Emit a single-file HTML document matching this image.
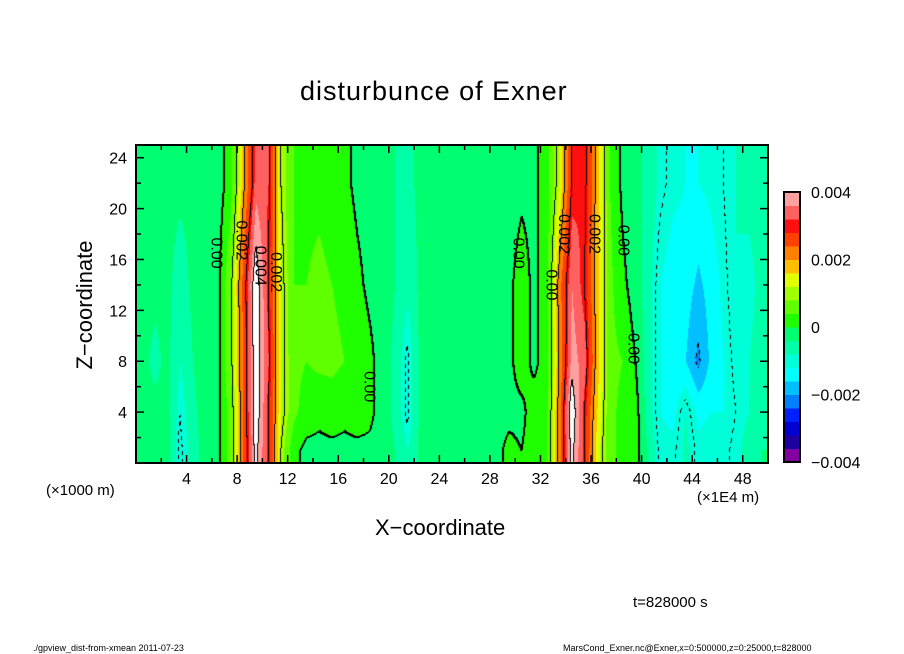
<!DOCTYPE html>
<html><head><meta charset="utf-8"><style>
body{margin:0;background:#fff;}
#root{position:relative;width:904px;height:654px;overflow:hidden;background:#fff;font-family:"Liberation Sans",sans-serif;color:#000;}
.t{position:absolute;white-space:nowrap;}
canvas{position:absolute;}
</style></head><body>
<div id="root">
<div class="t" style="left:300px;top:76px;font-size:27px;letter-spacing:1px;">disturbunce of Exner</div>
<canvas id="plot" width="632" height="318" style="left:136px;top:145px;"></canvas>
<svg id="axes" width="904" height="654" style="position:absolute;left:0;top:0;"></svg>
<div class="t" style="left:46px;top:482px;font-size:15px;">(×1000 m)</div>
<div class="t" style="left:697px;top:489px;font-size:15px;">(×1E4 m)</div>
<div class="t" style="left:375px;top:515px;font-size:22px;">X−coordinate</div>
<div class="t" style="left:20px;top:292px;font-size:22px;transform:rotate(-90deg);transform-origin:center;width:130px;text-align:center;">Z−coordinate</div>
<div class="t" style="left:633px;top:594px;font-size:15px;">t=828000 s</div>
<div class="t" style="left:33px;top:643px;font-size:9px;">./gpview_dist-from-xmean  2011-07-23</div>
<div class="t" style="left:563px;top:643px;font-size:9px;">MarsCond_Exner.nc@Exner,x=0:500000,z=0:25000,t=828000</div>
</div>
<script>
// z levels of rows (units of 1000 m), x columns centered at i+0.5 (x1E4 m)
const zRows = [1, 4, 8, 14, 22];
const row1 = [-2,-3,-2,-11,-6,-2,-1,6,24,42,30,10,1,-1,-1,-1,-1,-1,-1,-2,-4,-8,-3,-3,-2,-3,-2,-2,-1,1,0,2,3,22,42,30,14,5,3,2,-4,-11,-11,-7,-11,-10,-11,-9,-6,-4];
const row4 = [-2,-3,-3,-10,-5,-2,-1,6,24,44,30,12,5,2,1,2,1,2,1,-2,-5,-11,-3,-3,-3,-3,-3,-2,-2,-1,-1,2,3,22,44,30,16,5,3,2,-6,-12,-13,-8,-13,-12,-12,-10,-8,-5];
const row8 = [-3,-5,-3,-8,-4,-2,-1,8,24,44,32,12,5,4,5,5,4,3,1,-2,-5,-11,-3,-3,-3,-3,-2,-2,-2,-1,2,-1,2,20,38,34,18,5,4,0,-6,-12,-15,-16,-21,-15,-12,-9,-8,-5];
const row14 = [-2,-3,-3,-6,-3,-2,-1,8,26,44,30,12,4,4,5,4,3,1,-1,-2,-4,-7,-3,-3,-3,-3,-2,-2,-2,-1,2,-1,2,22,36,30,18,5,1,-2,-6,-12,-14,-14,-17,-14,-11,-8,-10,-6];
const row22 = [-2,-2,-3,-3,-3,-2,-2,2,18,34,32,10,4,3,3,2,1,-1,-2,-3,-4,-5,-3,-3,-3,-3,-3,-2,-2,-2,-1,-1,2,12,30,32,18,4,-1,-3,-5,-9,-11,-12,-12,-11,-10,-8,-6,-5];
const rows = [row1,row4,row8,row14,row22];
const binColors = ["#8000a0","#2000a0","#0000d0","#0020ff","#0080ff","#00c0ff","#00ffff","#00ffd8","#00ffa8","#00ff70","#20ff00","#60ff00","#a0ff00","#e0ff00","#ffc000","#ff8000","#ff4000","#ff1010","#ff6060","#ffa0a0"];
const xTicks = [4,8,12,16,20,24,28,32,36,40,44,48];
const zTicks = [4,8,12,16,20,24];
const cbTicks = [-0.004,-0.002,0,0.002,0.004];
const cbTickLabels = ["−0.004","−0.002","0","0.002","0.004"];
const contourLabels = [
 {x:6.3,z:16.5,t:"0.00"},{x:8.3,z:17.5,t:"0.002"},{x:9.8,z:15.5,t:"0.004"},{x:11.0,z:15,t:"0.002"},
 {x:18.4,z:6,t:"0.00"},{x:30.2,z:16.5,t:"0.00"},{x:32.8,z:14,t:"0.00"},{x:33.8,z:18,t:"0.002"},
 {x:36.2,z:18,t:"0.002"},{x:38.5,z:17.5,t:"0.00"},{x:39.3,z:9,t:"0.00"}
];

const X0=136, X1=768, Z0=463, Z1=145;
const sx = x => X0 + (x/50)*(X1-X0);
const sz = z => Z0 - (z/25)*(Z0-Z1);

function val(x,z){
  let fx = x-0.5; fx=Math.max(0,Math.min(49,fx));
  const i0=Math.min(48,Math.floor(fx)), tx=fx-i0;
  const rowVal = r => r[i0]*(1-tx)+r[i0+1]*tx;
  if(z<=zRows[0]) return rowVal(rows[0]);
  if(z>=zRows[zRows.length-1]) return rowVal(rows[rows.length-1]);
  let j;
  for(j=0;j<zRows.length-1;j++) if(z<=zRows[j+1]) break;
  const tz=(z-zRows[j])/(zRows[j+1]-zRows[j]);
  return rowVal(rows[j])*(1-tz)+rowVal(rows[j+1])*tz;
}
function hex(c){return [parseInt(c.slice(1,3),16),parseInt(c.slice(3,5),16),parseInt(c.slice(5,7),16)];}
const rgb = binColors.map(hex);
const cv=document.getElementById('plot'), ctx=cv.getContext('2d');
const W=cv.width,H=cv.height;
const F=new Float32Array(W*H);
for(let py=0;py<H;py++)for(let px=0;px<W;px++){
  const x=(px+0.5)/W*50, z=(H-py-0.5)/H*25;
  F[py*W+px]=val(x,z)*1e-4;
}
const img=ctx.createImageData(W,H);
for(let k=0;k<W*H;k++){
  const v=F[k]; let b=Math.floor((v+0.004)/0.0004);
  let c;
  if(b>=20) c=[255,255,255]; else c=rgb[Math.max(0,b)];
  img.data[k*4]=c[0];img.data[k*4+1]=c[1];img.data[k*4+2]=c[2];img.data[k*4+3]=255;
}
const levels=[-0.002,-0.001,0,0.001,0.002,0.003,0.004];
for(let py=0;py<H-1;py++)for(let px=0;px<W-1;px++){
  const a=F[py*W+px], r=F[py*W+px+1], d=F[(py+1)*W+px];
  for(const L of levels){
    if((a-L)*(r-L)<=0 && a!==r || (a-L)*(d-L)<=0 && a!==d){
      if(L<0 && (((px+py)>>2)&1)) continue;
      const set=(k)=>{img.data[k*4]=0;img.data[k*4+1]=0;img.data[k*4+2]=0;};
      set(py*W+px);
      if(L===0){set(py*W+px+1);set((py+1)*W+px);}
    }
  }
}
ctx.putImageData(img,0,0);

const NS="http://www.w3.org/2000/svg";
const svg=document.getElementById('axes');
function mk(tag,attrs){const e=document.createElementNS(NS,tag);for(const k in attrs)e.setAttribute(k,attrs[k]);svg.appendChild(e);return e;}
for(const cl of contourLabels){
  const t=mk('text',{x:sx(cl.x),y:sz(cl.z),'font-size':16,'font-family':'Liberation Sans, sans-serif','text-anchor':'middle','dominant-baseline':'middle',transform:`rotate(90 ${sx(cl.x)} ${sz(cl.z)})`});
  t.textContent=cl.t;
  
  
}
const fr=mk('rect',{x:X0,y:Z1,width:X1-X0,height:Z0-Z1,fill:'none',stroke:'#000','stroke-width':2});


for(let x=2;x<50;x+=2){
  const len = x%4===0?8:5;
  mk('line',{x1:sx(x),x2:sx(x),y1:Z0,y2:Z0-len,stroke:'#000','stroke-width':1.5});
  mk('line',{x1:sx(x),x2:sx(x),y1:Z1,y2:Z1+len,stroke:'#000','stroke-width':1.5});
}
for(let z=2;z<25;z+=2){
  const len = z%4===0?8:5;
  mk('line',{x1:X0,x2:X0+len,y1:sz(z),y2:sz(z),stroke:'#000','stroke-width':1.5});
  mk('line',{x1:X1,x2:X1-len,y1:sz(z),y2:sz(z),stroke:'#000','stroke-width':1.5});
}
for(const x of xTicks){
  const t=mk('text',{x:sx(x),y:484,'font-size':16,'font-family':'Liberation Sans, sans-serif','text-anchor':'middle'});
  t.textContent=x;
  
  
}
for(const z of zTicks){
  const t=mk('text',{x:127,y:sz(z)+6,'font-size':16,'font-family':'Liberation Sans, sans-serif','text-anchor':'end'});
  t.textContent=z;
  
  
}
const CB0=462, CB1=192, bh=(CB0-CB1)/20;
binColors.forEach((c,i)=>{
  const r=mk('rect',{x:784,y:CB0-(i+1)*bh,width:16,height:bh+0.5,fill:c});
  
  
});
const cbf=mk('rect',{x:784,y:CB1,width:16,height:CB0-CB1,fill:'none',stroke:'#000','stroke-width':2});


cbTicks.forEach((v,i)=>{
  const y=CB0-(v+0.004)/0.008*(CB0-CB1);
  const t=mk('text',{x:811,y:y+6,'font-size':16,'font-family':'Liberation Sans, sans-serif'});
  t.textContent=cbTickLabels[i];
  
  
});
</script>
</body></html>
